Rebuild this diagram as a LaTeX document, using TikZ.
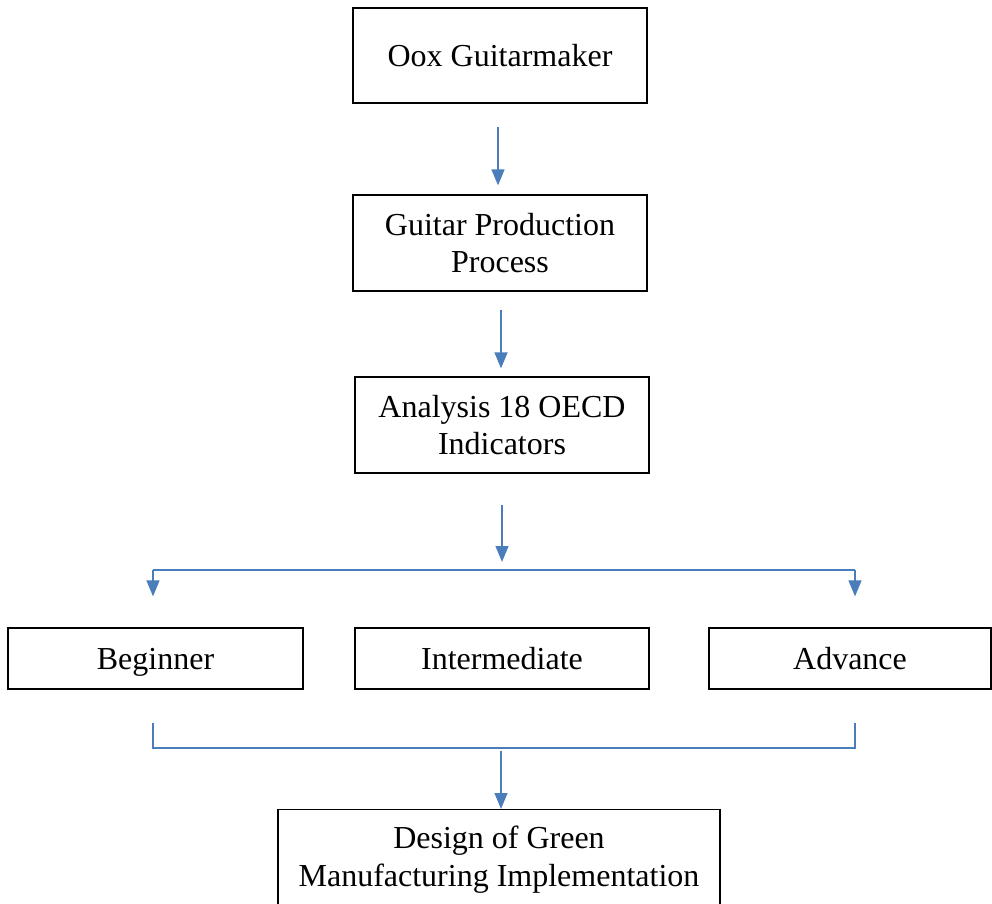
\documentclass[tikz,border=0pt]{standalone}
\usepackage{fontspec}
\setmainfont{Liberation Serif}
\usetikzlibrary{arrows.meta}
\definecolor{arrowblue}{HTML}{4A7EBB}
\tikzset{
  box/.style={draw=black, line width=0.8pt, align=center, inner sep=0pt,
    font=\fontsize{24pt}{28pt}\selectfont},
  oneline/.style={text height=19.5pt, text depth=2.5pt},
  arr/.style={draw=arrowblue, line width=1.7pt, -{Triangle[length=12pt,width=9.5pt]}},
  link/.style={draw=arrowblue, line width=1.6pt}
}
\begin{document}
\begin{tikzpicture}[x=0.75pt,y=-0.75pt]
\useasboundingbox (0,0) rectangle (992,903);
\node[box, oneline, minimum width=294*0.75pt, minimum height=95*0.75pt] (oox) at (500,55.5) {Oox Guitarmaker};
\node[box, minimum width=294*0.75pt, minimum height=96*0.75pt] (gpp) at (500,243) {Guitar Production\\Process};
\node[box, minimum width=294*0.75pt, minimum height=96*0.75pt] (ana) at (502,425) {Analysis 18 OECD\\Indicators};
\node[box, oneline, minimum width=295*0.75pt, minimum height=61*0.75pt] (beg) at (155.5,658.5) {Beginner};
\node[box, oneline, minimum width=294*0.75pt, minimum height=61*0.75pt] (int) at (502,658.5) {Intermediate};
\node[box, oneline, minimum width=282*0.75pt, minimum height=61*0.75pt] (adv) at (850,658.5) {Advance};
\node[box, minimum width=442*0.75pt, minimum height=100*0.75pt, anchor=north] (des) at (499,809) {Design of Green\\Manufacturing Implementation};

\coordinate (brc) at (502,570);
\coordinate (brl) at (153,570);
\coordinate (brr) at (855,570);
\coordinate (bkl) at (153,723);
\coordinate (bkr) at (855,723);
\coordinate (bkc) at (501,751);

\draw[arr, shorten <=17.25pt, shorten >=6.75pt] (oox.south -| 498,0) -- (gpp.north -| 498,0);
\draw[arr, shorten <=13.5pt, shorten >=6pt] (gpp.south -| 501,0) -- (ana.north -| 501,0);
\draw[arr, shorten <=23.25pt, shorten >=6pt] (ana.south) -- (brc);
\draw[link] (brl) -- (brr);
\draw[arr, shorten >=23.25pt] (brl) -- (brl |- beg.north);
\draw[arr, shorten >=23.25pt] (brr) -- (brr |- adv.north);
\draw[link, line width=1.3pt] (bkl) |- (bkr |- 0,748) -- (bkr);
\draw[arr] (bkc) -- (des.north -| bkc);
\end{tikzpicture}
\end{document}
